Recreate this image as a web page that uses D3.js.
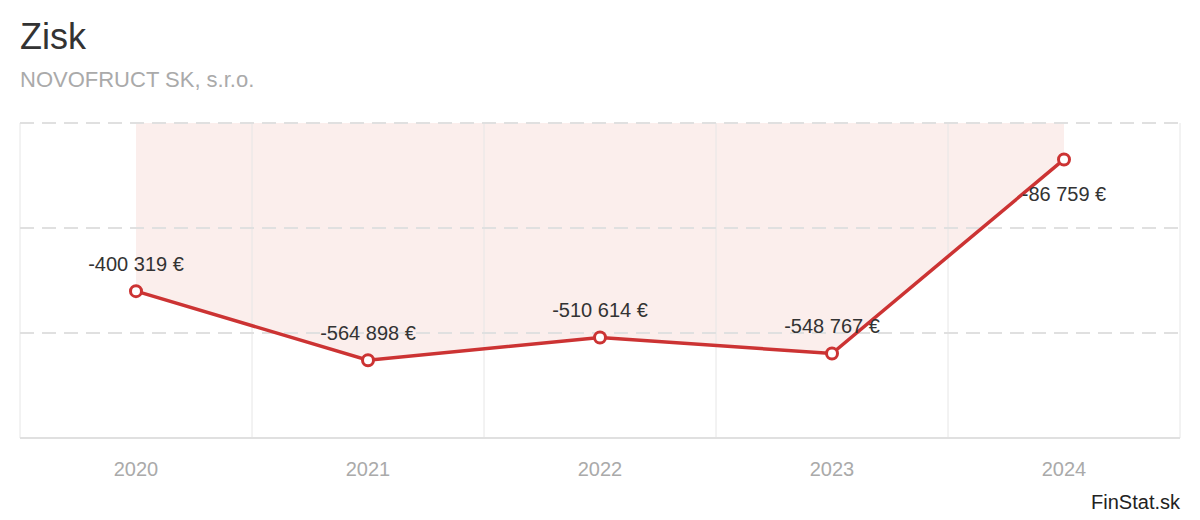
<!DOCTYPE html><html><head><meta charset="utf-8">
<script src="https://cdn.jsdelivr.net/npm/d3@7"></script>
<style>body{margin:0;background:#fff;font-family:"Liberation Sans",Arial,sans-serif}</style></head><body>
<svg id="c" width="1200" height="520"></svg>
<script>
const years=["2020","2021","2022","2023","2024"];
const profit=[-400319,-564898,-510614,-548767,-86759];
const labels=["-400 319 €","-564 898 €","-510 614 €","-548 767 €","-86 759 €"];
const yTicks=[0,-250000,-500000,-750000];
const svg=d3.select("#c");
const L=20,R=1180,T=123,B=438;
const x=d3.scaleBand().domain(years).range([L,R]);
const y=d3.scaleLinear().domain([-750000,0]).range([B,T]);
const cx=d=>x(d)+x.bandwidth()/2;
svg.append("text").attr("x",20).attr("y",49).attr("font-size",36).attr("fill","#333").text("Zisk");
svg.append("text").attr("x",20).attr("y",87).attr("font-size",22).attr("fill","#aaa").text("NOVOFRUCT SK, s.r.o.");
// area
const area=d3.area().x((d,i)=>cx(years[i])).y0(y(0)).y1(d=>y(d));
svg.append("path").datum(profit).attr("d",area).attr("fill","#fbeeec");
// vertical grid
const vx=[L,...years.slice(1).map(d=>x(d)),R];
svg.selectAll(".v").data(vx).enter().append("line").attr("x1",d=>d).attr("x2",d=>d).attr("y1",T).attr("y2",B).attr("stroke","#e6e6e6").attr("stroke-width",1);
svg.selectAll(".h").data(yTicks.slice(0,3)).enter().append("line").attr("x1",L).attr("x2",R).attr("y1",d=>y(d)).attr("y2",d=>y(d)).attr("stroke","#e0e0e0").attr("stroke-width",2).attr("stroke-dasharray","14,8");
svg.append("line").attr("x1",L).attr("x2",R).attr("y1",B).attr("y2",B).attr("stroke","#e0e0e0").attr("stroke-width",2);
svg.selectAll(".xl").data(years).enter().append("text").attr("x",d=>cx(d)).attr("y",476).attr("text-anchor","middle").attr("font-size",20).attr("fill","#aaa").text(d=>d);
const line=d3.line().x((d,i)=>cx(years[i])).y(d=>y(d));
svg.append("path").datum(profit).attr("d",line).attr("fill","none").attr("stroke","#cc3333").attr("stroke-width",3.5);
svg.selectAll(".p").data(profit).enter().append("circle").attr("cx",(d,i)=>cx(years[i])).attr("cy",d=>y(d)).attr("r",5.5).attr("fill","#fff").attr("stroke","#cc3333").attr("stroke-width",3);
svg.selectAll(".lb").data(profit).enter().append("text").attr("x",(d,i)=>cx(years[i])).attr("y",(d,i)=>i==4?y(d)+42:y(d)-20).attr("text-anchor","middle").attr("font-size",20).attr("fill","#333").text((d,i)=>labels[i]);
svg.append("text").attr("x",1180).attr("y",509).attr("text-anchor","end").attr("font-size",20).attr("fill","#222").text("FinStat.sk");
</script></body></html>
